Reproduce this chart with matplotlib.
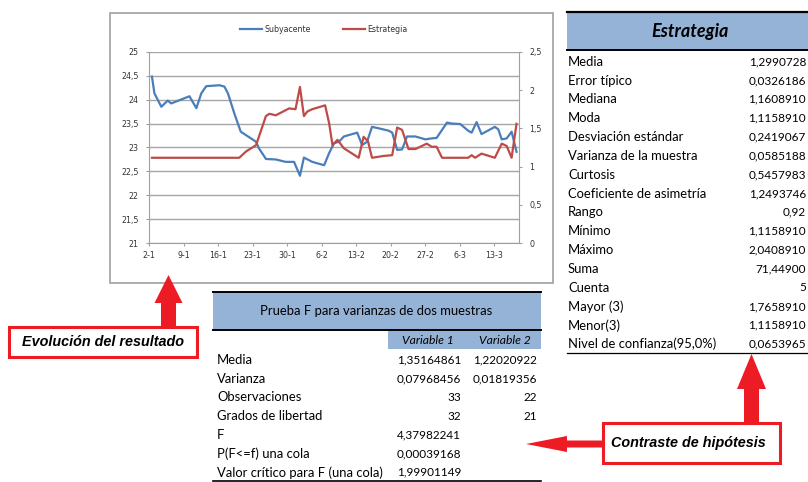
import matplotlib
matplotlib.use('Agg')
import matplotlib.pyplot as plt
from matplotlib.patches import Rectangle, FancyArrow
from matplotlib.lines import Line2D
from matplotlib.ticker import FuncFormatter

# ---------------- data ----------------
sub_day = [0.6, 1.1, 2.5, 3.8, 4.5, 8.2, 9.6, 10.6, 11.6, 14.3, 15.3, 16.0, 17.3, 18.6,
           21.7, 22.3, 23.4, 23.7, 25.7, 27.7, 29.4, 30.6, 31.4, 33.1, 35.5, 36.5, 37.5,
           38.5, 39.5, 42.2, 43.2, 44.2, 45.2, 46.6, 48.6, 49.3, 50.3, 51.3, 52.3, 54.0,
           56.0, 57.3, 58.3, 60.4, 61.4, 63.1, 64.7, 65.4, 66.4, 67.4, 70.1, 70.8, 71.5,
           72.5, 73.5, 74.5]
sub_val = [24.48, 24.13, 23.85, 23.98, 23.92, 24.07, 23.82, 24.13, 24.28, 24.30, 24.27,
           24.13, 23.71, 23.33, 23.12, 22.98, 22.81, 22.76, 22.75, 22.70, 22.70, 22.41,
           22.79, 22.70, 22.63, 22.88, 23.09, 23.12, 23.23, 23.31, 23.05, 23.12, 23.43,
           23.40, 23.35, 23.31, 22.95, 22.96, 23.23, 23.23, 23.17, 23.19, 23.20, 23.52,
           23.50, 23.49, 23.35, 23.31, 23.53, 23.28, 23.43, 23.38, 23.17, 23.19, 23.33,
           22.91]

est_day = [0.6, 18.3, 19.7, 21.7, 23.7, 24.4, 25.7, 28.4, 29.7, 30.6, 31.4, 32.1, 33.1,
           35.7, 36.5, 37.2, 38.2, 39.5, 41.2, 42.5, 43.5, 44.4, 45.2, 47.6, 49.3, 50.3,
           51.3, 52.6, 54.0, 56.3, 57.3, 58.3, 59.4, 64.7, 65.4, 66.1, 67.4, 70.1, 71.5,
           72.5, 73.5, 74.5]
est_val = [1.116, 1.116, 1.20, 1.28, 1.66, 1.69, 1.67, 1.76, 1.75, 2.04, 1.66, 1.72, 1.75,
           1.80, 1.57, 1.28, 1.35, 1.24, 1.17, 1.116, 1.39, 1.33, 1.116, 1.14, 1.15, 1.51,
           1.48, 1.23, 1.23, 1.30, 1.26, 1.26, 1.116, 1.116, 1.15, 1.116, 1.17, 1.116, 1.30,
           1.27, 1.116, 1.56]

xtick_days = [0, 7, 14, 21, 28, 35, 42, 49, 56, 63, 70]
xtick_labels = ['2-1', '9-1', '16-1', '23-1', '30-1', '6-2', '13-2', '20-2', '27-2', '6-3', '13-3']

est_labels = ['Media', 'Error típico', 'Mediana', 'Moda', 'Desviación estándar',
              'Varianza de la muestra', 'Curtosis', 'Coeficiente de asimetría', 'Rango',
              'Mínimo', 'Máximo', 'Suma', 'Cuenta', 'Mayor (3)', 'Menor(3)',
              'Nivel de confianza(95,0%)']
est_values = ['1,2990728', '0,0326186', '1,1608910', '1,1158910', '0,2419067', '0,0585188',
              '0,5457983', '1,2493746', '0,92', '1,1158910', '2,0408910', '71,44900', '5',
              '1,7658910', '1,1158910', '0,0653965']

f_labels = ['Media', 'Varianza', 'Observaciones', 'Grados de libertad', 'F',
            'P(F<=f) una cola', 'Valor crítico para F (una cola)']
f_var1 = ['1,35164861', '0,07968456', '33', '32', '4,37982241', '0,00039168', '1,99901149']
f_var2 = ['1,22020922', '0,01819356', '22', '21', '', '', '']

# ---------------- layout ----------------
W, H = 808, 482
fig = plt.figure(figsize=(W / 100, H / 100), dpi=100)
ov = fig.add_axes([0, 0, 1, 1])
ov.set_xlim(0, W)
ov.set_ylim(H, 0)
ov.axis('off')

TF = 'Lato'
TS = 9.4
NS = 8.5
RED = '#ed1c24'
FILL = '#95b3d7'
BLUE_L = '#4a7ebb'
RED_L = '#be4b48'
GREY = '#a6a6a6'

# chart frame
ov.add_patch(Rectangle((110, 13), 443, 270, fill=False, ec='#a0a0a0', lw=1.2))

ax = fig.add_axes([149 / W, 1 - 243.3 / H, (519 - 149) / W, (243.3 - 51.7) / H])
ax.patch.set_alpha(0)
ax.plot(sub_day, sub_val, color=BLUE_L, lw=1.6, solid_joinstyle='round')
ax.set_xlim(0, 75)
ax.set_ylim(21, 25)
ax.set_yticks([21 + 0.5 * i for i in range(9)])
fmt = FuncFormatter(lambda v, p: ('%g' % v).replace('.', ','))
ax.yaxis.set_major_formatter(fmt)
ax.set_xticks(xtick_days)
ax.set_xticklabels(xtick_labels)
ax.grid(axis='y', color=GREY, lw=1)
ax.set_axisbelow(True)
for s in ['top', 'right']:
    ax.spines[s].set_visible(False)
for s in ['left', 'bottom']:
    ax.spines[s].set_color('#a0a0a0')
ax.tick_params(axis='both', colors='#a0a0a0', labelcolor='#333333', labelsize=5.7,
               length=2.5, direction='out', width=0.8)
ax.tick_params(axis='x', pad=3)
ax.tick_params(axis='y', pad=5)

ax2 = ax.twinx()
ax2.plot(est_day, est_val, color=RED_L, lw=1.6, solid_joinstyle='round')
ax2.set_ylim(0, 2.5)
ax2.set_yticks([0.5 * i for i in range(6)])
ax2.yaxis.set_major_formatter(fmt)
for s in ['top', 'left', 'bottom']:
    ax2.spines[s].set_visible(False)
ax2.spines['right'].set_color('#a0a0a0')
ax2.tick_params(axis='y', colors='#a0a0a0', labelcolor='#333333', labelsize=5.7,
                length=2.5, direction='out', width=0.8, pad=5)

handles = [Line2D([], [], color=BLUE_L, lw=1.6), Line2D([], [], color=RED_L, lw=1.6)]
fig.legend(handles, ['Subyacente', 'Estrategia'], ncol=2, loc='center',
           bbox_to_anchor=(324 / W, 1 - 29 / H), frameon=False,
           prop={'size': 5.7}, handlelength=2.8, columnspacing=4, handletextpad=0.3,
           labelcolor='#333333')

# ---------------- Estrategia table ----------------
ov.add_patch(Rectangle((567, 12), W - 567, 38, color=FILL, lw=0))
ov.plot([567, W], [11.5, 11.5], color='black', lw=1.6)
ov.plot([567, W], [50, 50], color='black', lw=1.4)
ov.text(690, 31.5, 'Estrategia', ha='center', va='center', fontsize=13,
        fontweight='bold', fontstyle='italic', family=TF)
for i, (lab, val) in enumerate(zip(est_labels, est_values)):
    y = 61.7 + i * 18.83
    ov.text(568, y, lab, ha='left', va='center', fontsize=TS, family=TF)
    ov.text(806, y, val, ha='right', va='center', fontsize=NS, family=TF)
ov.plot([567, W], [353, 353], color='black', lw=0.9)

# ---------------- Prueba F table ----------------
ov.add_patch(Rectangle((213, 292), 328, 37, color=FILL, lw=0))
ov.plot([213, 541], [291.5, 291.5], color='black', lw=1.4)
ov.plot([213, 541], [329.5, 329.5], color='black', lw=1.4)
ov.text(376, 311, 'Prueba F para varianzas de dos muestras', ha='center', va='center',
        fontsize=TS, family=TF)
ov.add_patch(Rectangle((388, 330.5), 153, 18.5, color=FILL, lw=0))
ov.text(454, 340, 'Variable 1', ha='right', va='center', fontsize=8.7,
        fontstyle='italic', family=TF)
ov.text(531, 340, 'Variable 2', ha='right', va='center', fontsize=8.7,
        fontstyle='italic', family=TF)
for i, (lab, v1, v2) in enumerate(zip(f_labels, f_var1, f_var2)):
    y = 360 + i * 18.72
    ov.text(217, y, lab, ha='left', va='center', fontsize=TS, family=TF)
    ov.text(461, y, v1, ha='right', va='center', fontsize=NS, family=TF)
    ov.text(537, y, v2, ha='right', va='center', fontsize=NS, family=TF)
ov.plot([213, 541], [480.5, 480.5], color='black', lw=1.2)

# ---------------- callouts ----------------
ov.add_patch(FancyArrow(168.5, 328, 0, -53, width=15, head_width=28, head_length=28,
                        length_includes_head=True, color=RED, lw=0))
ov.add_patch(Rectangle((9, 327), 188, 30, fill=True, fc='white', ec=RED, lw=2.2))
ov.text(103, 342.5, 'Evolución del resultado', ha='center', va='center', fontsize=10.4,
        fontweight='bold', fontstyle='italic', family='Liberation Sans')

ov.add_patch(FancyArrow(751.5, 423, 0, -69, width=15, head_width=29, head_length=35,
                        length_includes_head=True, color=RED, lw=0))
ov.add_patch(FancyArrow(603, 444, -77, 0, width=7, head_width=16, head_length=41,
                        length_includes_head=True, color=RED, lw=0))
ov.add_patch(Rectangle((603, 423), 177, 40, fill=True, fc='white', ec=RED, lw=2.2))
ov.text(688, 443.5, 'Contraste de hipótesis', ha='center', va='center', fontsize=10.4,
        fontweight='bold', fontstyle='italic', family='Liberation Sans')

fig.savefig('out.png', dpi=100)
